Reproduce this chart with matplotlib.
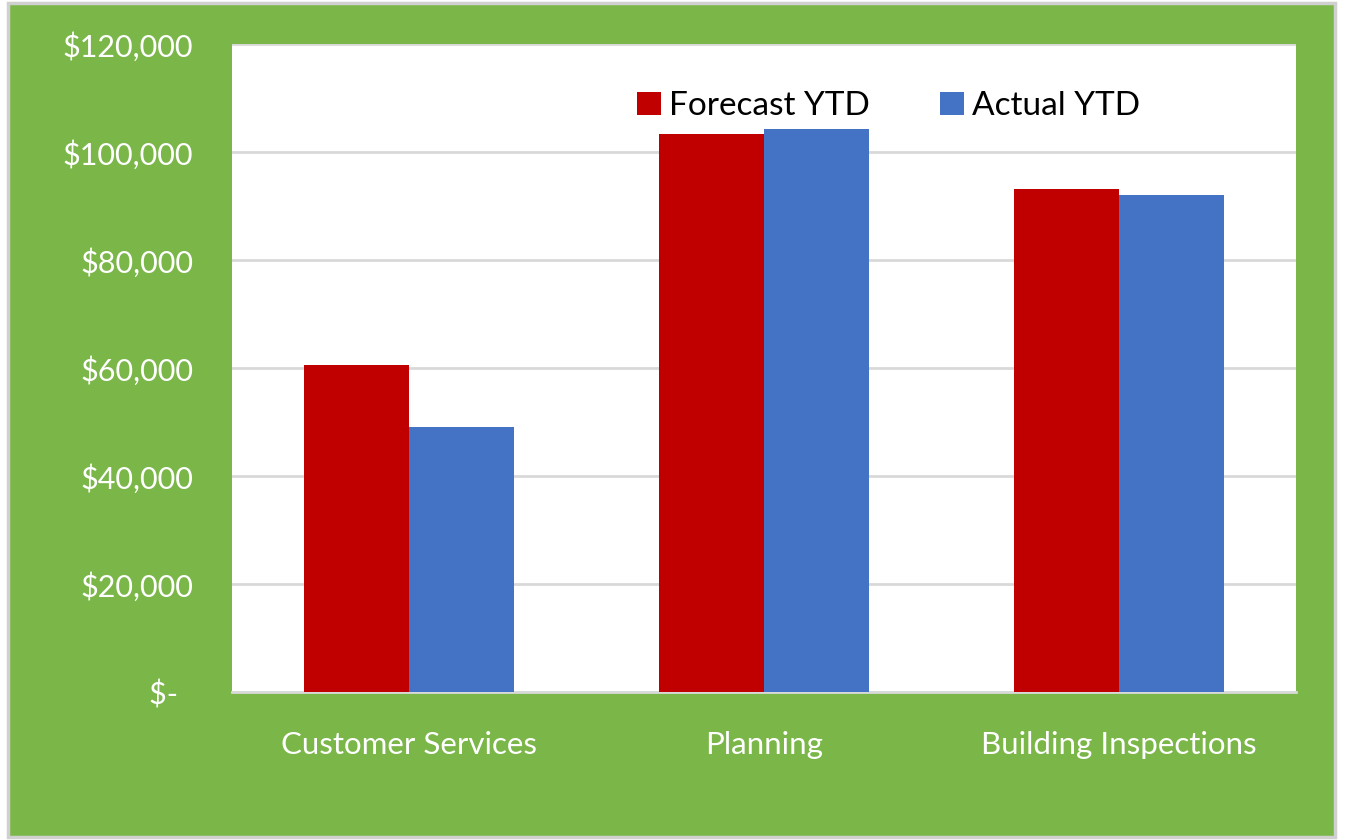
import numpy as np
import matplotlib.pyplot as plt
from matplotlib.patches import Rectangle

# data
categories = ['Customer Services', 'Planning', 'Building Inspections']
forecast_ytd = [60500, 103400, 93200]
actual_ytd = [49000, 104200, 92100]
yticks = [0, 20000, 40000, 60000, 80000, 100000, 120000]
ytick_labels = ['$-  ', '$20,000', '$40,000', '$60,000', '$80,000', '$100,000', '$120,000']

plt.rcParams['font.family'] = ['Lato', 'DejaVu Sans']

fig = plt.figure(figsize=(13.51, 8.4), dpi=100)
fig.patch.set_facecolor('white')

# green chart area with grey border (behind the axes)
fig.patches.append(Rectangle((8 / 1351, 3 / 840), 1327 / 1351, 834 / 840, transform=fig.transFigure,
                             facecolor='#7AB648', edgecolor='#D0D0D0', linewidth=2.5, zorder=-10))

ax = fig.add_axes([232 / 1351, 148 / 840, 1064 / 1351, 648 / 840])
ax.set_zorder(5)
ax.set_facecolor('white')

x = np.arange(len(categories))
w = 0.296
ax.bar(x - w / 2, forecast_ytd, width=w, color='#C00000', label='Forecast YTD', zorder=3)
ax.bar(x + w / 2, actual_ytd, width=w, color='#4472C4', label='Actual YTD', zorder=3)

ax.set_xlim(-0.5, 2.5)
ax.set_ylim(0, 120000)
ax.set_yticks(yticks)
ax.set_yticklabels(ytick_labels)
ax.set_xticks(x)
ax.set_xticklabels(categories)
ax.tick_params(axis='y', length=0, pad=28, labelsize=22, labelcolor='white')
ax.tick_params(axis='x', length=0, pad=28, labelsize=22.5, labelcolor='white')

ax.grid(axis='y', color='#D9D9D9', linewidth=2, zorder=0)
for s in ['top', 'right', 'left']:
    ax.spines[s].set_visible(False)
ax.spines['bottom'].set_color('#D9D9D9')
ax.spines['bottom'].set_linewidth(2)

ax.legend(loc='center', bbox_to_anchor=(0.617, 0.904), ncol=2, frameon=False, fontsize=24,
          handlelength=0.72, handleheight=0.72, handletextpad=0.24, columnspacing=2.1)

fig.savefig('out.png', dpi=100)
